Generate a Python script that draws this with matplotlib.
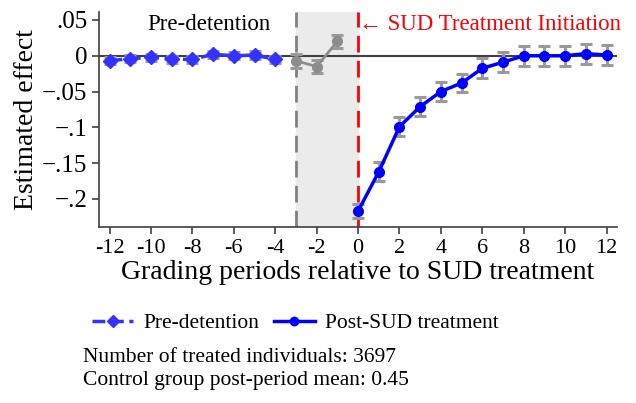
import matplotlib
matplotlib.use("Agg")
import matplotlib.pyplot as plt
from matplotlib.lines import Line2D

plt.rcParams["font.family"] = ["Liberation Serif", "DejaVu Serif"]

# pre-detention periods
pre_x = [-12, -11, -10, -9, -8, -7, -6, -5, -4]
pre_y = [-0.007, -0.004, -0.002, -0.005, -0.005, 0.002, 0.0, 0.001, -0.005]
pre_err = [0.005, 0.005, 0.005, 0.005, 0.005, 0.005, 0.005, 0.005, 0.005]

# detention window
mid_x = [-3, -2, -1]
mid_y = [-0.007, -0.015, 0.020]
mid_err = [0.010, 0.009, 0.009]

# post SUD treatment
post_x = [0, 1, 2, 3, 4, 5, 6, 7, 8, 9, 10, 11, 12]
post_y = [-0.217, -0.162, -0.099, -0.071, -0.050, -0.038, -0.0175,
          -0.009, 0.0, 0.0, 0.0, 0.003, 0.001]
post_err = [0.010, 0.013, 0.013, 0.013, 0.013, 0.013, 0.014,
            0.014, 0.014, 0.014, 0.014, 0.014, 0.014]

xticks = list(range(-12, 13, 2))
yticks = [0.05, 0.0, -0.05, -0.1, -0.15, -0.2]
ylabels = [".05", "0", "\u2212.05", "\u2212.1", "\u2212.15", "\u2212.2"]

fig = plt.figure(figsize=(6.36, 4.03), dpi=100)
ax = fig.add_axes([0.156, 0.437, 0.814, 0.533])

ax.axvspan(-3, 0, color="#ebebeb", zorder=0)
ax.axhline(0, color="#404040", lw=1.5, zorder=1)
ax.axvline(-3, color="#808080", lw=2, ls=(0, (6, 3)), zorder=2)
ax.axvline(0, color="red", lw=2, ls=(0, (6, 3)), zorder=2)

eb = dict(ecolor="#9a9a9a", elinewidth=2.2, capsize=4, capthick=2.2)
ax.errorbar(mid_x, mid_y, yerr=mid_err, color="#8c8c8c", marker="o", ms=7,
            lw=2, zorder=3, **eb)
ax.errorbar(pre_x, pre_y, yerr=pre_err, color="#3333ff", marker="D", ms=7,
            lw=2.5, ls="--", zorder=4, **eb)
ax.errorbar(post_x, post_y, yerr=post_err, color="#0000ff", marker="o", ms=7,
            lw=2.5, zorder=4, **eb)

ax.set_xlim(-12.5, 12.5)
ax.set_ylim(-0.239, 0.061)
ax.set_xticks(xticks)
ax.set_xticklabels([str(v) for v in xticks])
ax.set_yticks(yticks)
ax.set_yticklabels(ylabels)
ax.tick_params(color="#404040", width=1.2, length=5)
ax.tick_params(axis="x", labelsize=16)
ax.tick_params(axis="y", labelsize=18)
ax.set_xlabel("Grading periods relative to SUD treatment", fontsize=20, labelpad=2)
ax.set_ylabel("Estimated effect", fontsize=20, labelpad=2)
for side in ["top", "right"]:
    ax.spines[side].set_visible(False)
for side in ["left", "bottom"]:
    ax.spines[side].set_color("#404040")
    ax.spines[side].set_linewidth(1.2)

ax.text(-7.2, 0.058, "Pre-detention", fontsize=16.5, ha="center", va="top")
ax.text(0.05, 0.058, "\u2190 SUD Treatment Initiation", fontsize=16.5,
        color="red", ha="left", va="top")

handles = [
    Line2D([], [], color="#3333ff", ls="--", lw=2.5, marker="D", ms=6),
    Line2D([], [], color="#0000ff", lw=2.5, marker="o", ms=6),
]
fig.legend(handles, ["Pre-detention", "Post-SUD treatment"], loc="center",
           bbox_to_anchor=(0.465, 0.198), ncol=2, frameon=False, fontsize=15.5,
           handlelength=1.9, columnspacing=0.65, handletextpad=0.5)

fig.text(0.131, 0.112, "Number of treated individuals: 3697", fontsize=15.5,
         va="center")
fig.text(0.131, 0.057, "Control group post-period mean: 0.45", fontsize=15.5,
         va="center")

fig.savefig("out.png", dpi=100)
